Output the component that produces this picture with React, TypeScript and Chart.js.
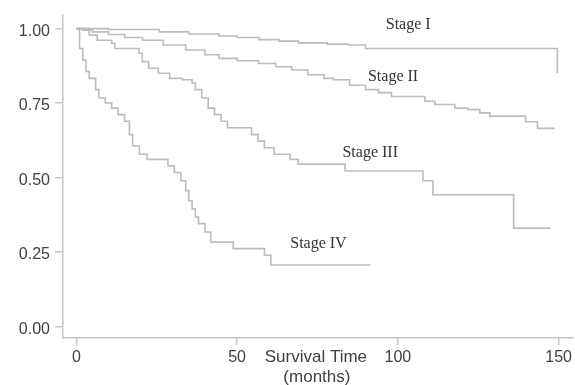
import React, { useEffect, useRef } from "react";
import { Chart, registerables } from "chart.js";

Chart.register(...registerables);

// Kaplan-Meier step data (time in months, survival probability)
const stageITime = [0, 10, 25.8, 35, 44.4, 50, 56.8, 63, 69.1, 78, 84.6, 89.9, 149.6];
const stageISurv = [1, 0.997, 0.989, 0.982, 0.975, 0.97, 0.963, 0.958, 0.952, 0.948, 0.945, 0.933, 0.85];

const stageIITime = [0, 2, 5, 10, 15, 20.6, 27, 34, 40, 44.4, 50, 56.7, 62, 67, 72, 77, 80, 85, 89.9, 94, 98, 108.4, 111.5, 117.7, 121.8, 125.5, 128.6, 139.7, 143.4, 148.7];
const stageIISurv = [1, 0.995, 0.989, 0.98, 0.97, 0.961, 0.945, 0.928, 0.912, 0.9, 0.892, 0.883, 0.872, 0.861, 0.845, 0.833, 0.828, 0.81, 0.795, 0.785, 0.772, 0.756, 0.745, 0.733, 0.728, 0.717, 0.706, 0.687, 0.665, 0.665];

const stageIIITime = [0, 4, 6.5, 11, 12, 19.5, 20.5, 22.5, 25.5, 29, 33, 36, 37, 39, 41, 43, 45, 47, 54.5, 56.5, 58.5, 61.5, 66.5, 69, 83.6, 107.8, 110.9, 136, 147.5];
const stageIIISurv = [1, 0.978, 0.961, 0.95, 0.933, 0.917, 0.889, 0.867, 0.85, 0.833, 0.828, 0.817, 0.795, 0.767, 0.733, 0.711, 0.689, 0.667, 0.644, 0.622, 0.6, 0.578, 0.561, 0.545, 0.522, 0.489, 0.442, 0.33, 0.33];

const stageIVTime = [0, 1, 2, 3, 4, 6, 7, 9, 11, 13, 15, 16.5, 17.5, 19.6, 22, 28.5, 30.5, 32.5, 34, 35, 36, 37, 38, 40, 41.8, 48.8, 58.5, 60.5, 91.5];
const stageIVSurv = [1, 0.933, 0.894, 0.856, 0.833, 0.795, 0.767, 0.75, 0.733, 0.711, 0.689, 0.644, 0.606, 0.578, 0.561, 0.539, 0.517, 0.489, 0.456, 0.422, 0.394, 0.367, 0.345, 0.317, 0.283, 0.261, 0.239, 0.206, 0.206];

const xTickValues = [0, 50, 100, 150];
const yTickValues = [0, 0.25, 0.5, 0.75, 1];

const stageNames = ["Stage I", "Stage II", "Stage III", "Stage IV"];
const stageLabelX = [103.2, 98.5, 91.4, 75.3];
const stageLabelY = [1.012, 0.839, 0.582, 0.279];

const xTitleLines = ["Survival Time", "(months)"];

const LINE = "#bcbcbc";
const AXIS = "#c6c6c6";
const TEXT = "#404040";

function toPoints(t: number[], s: number[]) {
  return t.map((x, i) => ({ x, y: s[i] }));
}

const annotPlugin = {
  id: "annot",
  afterDraw(chart: any) {
    const ctx = chart.ctx;
    const xs = chart.scales.x;
    const ys = chart.scales.y;
    ctx.save();
    ctx.font = '16px "Liberation Serif"';
    ctx.fillStyle = "#333333";
    ctx.textAlign = "center";
    ctx.textBaseline = "middle";
    stageNames.forEach((n, i) => {
      ctx.fillText(n, xs.getPixelForValue(stageLabelX[i]), ys.getPixelForValue(stageLabelY[i]));
    });
    ctx.font = '17px "Liberation Sans"';
    ctx.fillStyle = TEXT;
    const cx = xs.getPixelForValue(74.5);
    ctx.fillText(xTitleLines[0], cx, chart.chartArea.bottom + 19);
    ctx.fillText(xTitleLines[1], cx + 1, chart.chartArea.bottom + 39);
    ctx.restore();
  },
};

export default function App() {
  const ref = useRef<HTMLCanvasElement>(null);
  useEffect(() => {
    if (!ref.current) return;
    const ds = (t: number[], s: number[]) => ({
      data: toPoints(t, s),
      borderColor: LINE,
      borderWidth: 1.6,
      pointRadius: 0,
      stepped: true as const,
      fill: false,
    });
    const chart = new Chart(ref.current, {
      type: "line",
      data: {
        datasets: [
          ds(stageITime, stageISurv),
          ds(stageIITime, stageIISurv),
          ds(stageIIITime, stageIIISurv),
          ds(stageIVTime, stageIVSurv),
        ],
      },
      options: {
        animation: false,
        responsive: true,
        maintainAspectRatio: false,
        layout: { padding: { top: 12, right: 0, left: 0, bottom: 0 } },
        plugins: { legend: { display: false }, tooltip: { enabled: false } },
        scales: {
          x: {
            type: "linear",
            min: -4.15,
            max: 154.3,
            afterBuildTicks: (s: any) => {
              s.ticks = xTickValues.map((v) => ({ value: v }));
            },
            afterFit: (s: any) => {
              s.height = 47;
            },
            grid: { display: true, drawOnChartArea: false, drawTicks: true, tickLength: 7, color: AXIS, lineWidth: 1.5 },
            border: { display: true, color: AXIS, width: 1.5 },
            ticks: {
              padding: 3,
              color: TEXT,
              font: { family: '"Liberation Sans"', size: 16 },
              maxRotation: 0,
              callback: (v: any) => String(v),
            },
          },
          y: {
            type: "linear",
            min: -0.039,
            max: 1.047,
            afterBuildTicks: (s: any) => {
              s.ticks = yTickValues.map((v) => ({ value: v }));
            },
            afterFit: (s: any) => {
              s.width = 63;
            },
            grid: { display: true, drawOnChartArea: false, drawTicks: true, tickLength: 8, color: AXIS, lineWidth: 1.5 },
            border: { display: true, color: AXIS, width: 1.5 },
            ticks: {
              padding: 5,
              labelOffset: 3,
              color: TEXT,
              font: { family: '"Liberation Sans"', size: 16 },
              callback: (v: any) => Number(v).toFixed(2),
            },
          },
        },
      },
      plugins: [annotPlugin],
    });
    return () => chart.destroy();
  }, []);
  return (
    <div style={{ position: "absolute", left: 0, top: 0, width: 575, height: 385, background: "#fff" }}>
      <canvas ref={ref} />
    </div>
  );
}
